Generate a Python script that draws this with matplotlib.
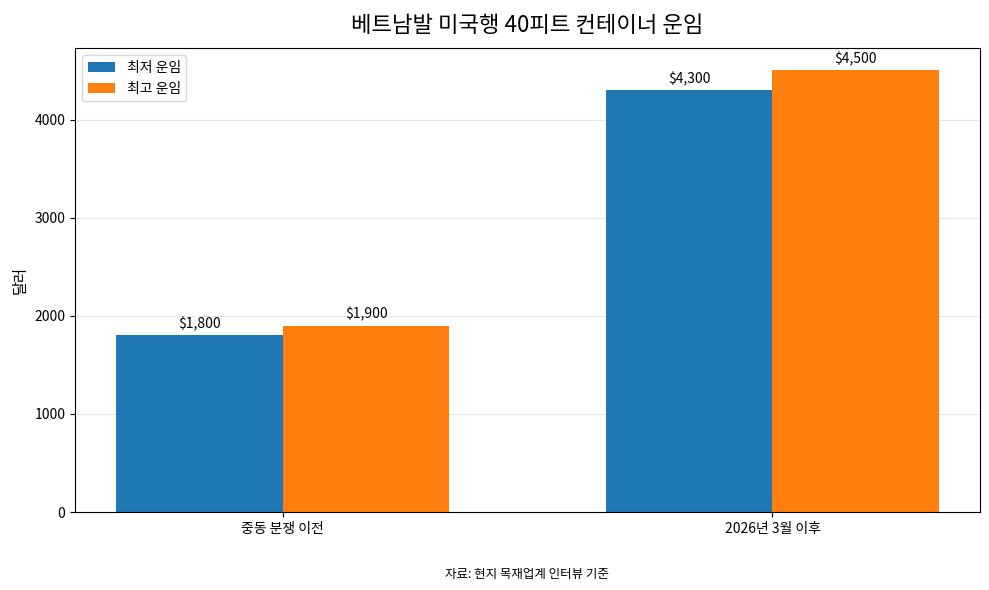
import matplotlib
matplotlib.use("Agg")
import matplotlib.pyplot as plt
import numpy as np

plt.rcParams['font.family'] = ['Noto Sans CJK KR', 'DejaVu Sans']

periods = ['중동 분쟁 이전', '2026년 3월 이후']
low_rate = [1800, 4300]
high_rate = [1900, 4500]
series_names = ['최저 운임', '최고 운임']

x = np.arange(len(periods))
width = 0.34

fig, ax = plt.subplots(figsize=(9.89, 5.90), dpi=100)
b1 = ax.bar(x - width / 2, low_rate, width, label=series_names[0], color='#1f77b4')
b2 = ax.bar(x + width / 2, high_rate, width, label=series_names[1], color='#ff7f0e')

for bars in (b1, b2):
    ax.bar_label(bars, labels=[f'\\${v:,}' for v in bars.datavalues], padding=3, fontsize=10)

ax.set_title('베트남발 미국행 40피트 컨테이너 운임', fontsize=16, pad=12)
ax.set_ylabel('달러', fontsize=11)
ax.set_xticks(x)
ax.set_xticklabels(periods, fontsize=10)
ax.legend(loc='upper left', fontsize=10)
ax.yaxis.grid(True, alpha=0.3)
ax.set_axisbelow(True)

fig.text(0.533, 0.02, '자료: 현지 목재업계 인터뷰 기준', ha='center', fontsize=9)
fig.subplots_adjust(left=0.076, right=0.991, top=0.918, bottom=0.132)
fig.savefig('out.png', dpi=100)
